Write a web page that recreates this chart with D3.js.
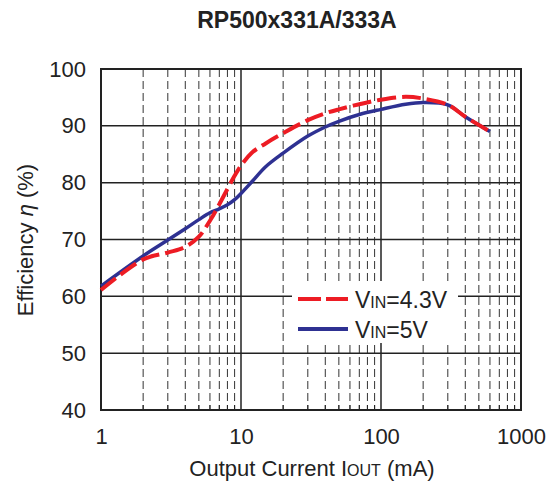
<!DOCTYPE html>
<html><head><meta charset="utf-8">
<script src="https://cdn.jsdelivr.net/npm/d3@7"></script>
<style>body{margin:0;background:#fff}text{font-family:"Liberation Sans",Arial,sans-serif;fill:#222}</style>
</head><body>
<svg id="c" width="556" height="487"></svg>
<script>
const title = "RP500x331A/333A";
const current = [1,2,3,4,5,6,7,8,9,10,12,15,20,30,40,50,70,100,150,200,300,400,600];
const effVin43 = [61.1,66.5,67.7,68.7,70.5,73.3,76.2,78.9,81.2,83.0,85.3,86.9,88.7,91.0,92.2,92.9,93.8,94.6,95.1,94.8,93.7,91.6,89.0];
const effVin5  = [61.8,67.1,69.9,71.9,73.5,74.7,75.4,76.1,77.0,78.1,80.2,82.8,85.2,88.2,89.8,90.8,92.0,92.9,93.8,94.1,93.7,91.6,89.0];
const xTicks = [1,10,100,1000];
const yTicks = [40,50,60,70,80,90,100];
const seriesNames = ["4.3V","5V"];

const svg = d3.select("#c");
const L=101,R=521,T=69,B=410;
const x = d3.scaleLog().domain([1,1000]).range([L,R]);
const y = d3.scaleLinear().domain([40,100]).range([B,T]);

// minor gridlines
const minor = [];
for (let d=1; d<1000; d*=10) for (let k=2;k<=9;k++) minor.push(d*k);
svg.append("g").selectAll("line").data(minor).join("line")
  .attr("x1",d=>x(d)).attr("x2",d=>x(d)).attr("y1",T).attr("y2",B)
  .attr("stroke","#333").attr("stroke-width",1).attr("stroke-dasharray","8,4");

// major gridlines
svg.append("g").selectAll("line").data(xTicks.slice(1,-1)).join("line")
  .attr("x1",d=>x(d)).attr("x2",d=>x(d)).attr("y1",T).attr("y2",B)
  .attr("stroke","#222").attr("stroke-width",1.5);
svg.append("g").selectAll("line").data(yTicks.slice(1,-1)).join("line")
  .attr("y1",d=>y(d)).attr("y2",d=>y(d)).attr("x1",L).attr("x2",R)
  .attr("stroke","#222").attr("stroke-width",1.5);

// minor ticks at bottom
svg.append("g").selectAll("line").data(minor).join("line")
  .attr("x1",d=>x(d)).attr("x2",d=>x(d)).attr("y1",B).attr("y2",B-5)
  .attr("stroke","#222").attr("stroke-width",1);

// frame
svg.append("rect").attr("x",L).attr("y",T).attr("width",R-L).attr("height",B-T)
  .attr("fill","none").attr("stroke","#222").attr("stroke-width",2);

// axes
const xa = svg.append("g").attr("transform",`translate(0,${B})`)
  .call(d3.axisBottom(x).tickValues(xTicks).tickFormat(d3.format("d")).tickSize(0).tickPadding(18));
xa.select(".domain").remove();
xa.selectAll("text").attr("font-size",22).attr("fill","#222").style("font-family","Liberation Sans, Arial");
const ya = svg.append("g").attr("transform",`translate(${L},0)`)
  .call(d3.axisLeft(y).tickValues(yTicks).tickSize(0).tickPadding(15));
ya.select(".domain").remove();
ya.selectAll("text").attr("font-size",22).attr("fill","#222").style("font-family","Liberation Sans, Arial");

// curves
const line = d3.line().x(d=>x(d[0])).y(d=>y(d[1])).curve(d3.curveCatmullRom.alpha(0.5));
svg.append("path").datum(current.map((c,i)=>[c,effVin5[i]]))
  .attr("d",line).attr("fill","none").attr("stroke","#2e3192").attr("stroke-width",3.5);
svg.append("path").datum(current.map((c,i)=>[c,effVin43[i]]))
  .attr("d",line).attr("fill","none").attr("stroke","#ed1c24").attr("stroke-width",4)
  .attr("stroke-dasharray","19,6");

// legend
const lg = svg.append("g");
lg.append("rect").attr("x",292).attr("y",281).attr("width",166).attr("height",62).attr("fill","#fff");
lg.append("line").attr("x1",298).attr("x2",348).attr("y1",299).attr("y2",299)
  .attr("stroke","#ed1c24").attr("stroke-width",4).attr("stroke-dasharray","23,5");
lg.append("line").attr("x1",298).attr("x2",348).attr("y1",329).attr("y2",329)
  .attr("stroke","#2e3192").attr("stroke-width",4);
seriesNames.forEach((n,i)=>{
  const t = lg.append("text").attr("x",355).attr("y",308+i*30).attr("font-size",23);
  t.append("tspan").text("V");
  t.append("tspan").attr("font-size",16).text("IN");
  t.append("tspan").text("="+n);
});

// titles
svg.append("text").attr("x",297).attr("y",28).attr("text-anchor","middle")
  .attr("font-size",23).attr("font-weight","bold").attr("fill","#111").text(title);
const xt = svg.append("text").attr("x",312).attr("y",476).attr("text-anchor","middle").attr("font-size",22);
xt.append("tspan").text("Output Current I");
xt.append("tspan").attr("font-size",16).text("OUT");
xt.append("tspan").text(" (mA)");
const yt = svg.append("text").attr("transform","translate(33,240) rotate(-90)").attr("text-anchor","middle").attr("font-size",22);
yt.append("tspan").text("Efficiency ");
yt.append("tspan").attr("font-style","italic").text("η");
yt.append("tspan").text(" (%)");
</script>
</body></html>
